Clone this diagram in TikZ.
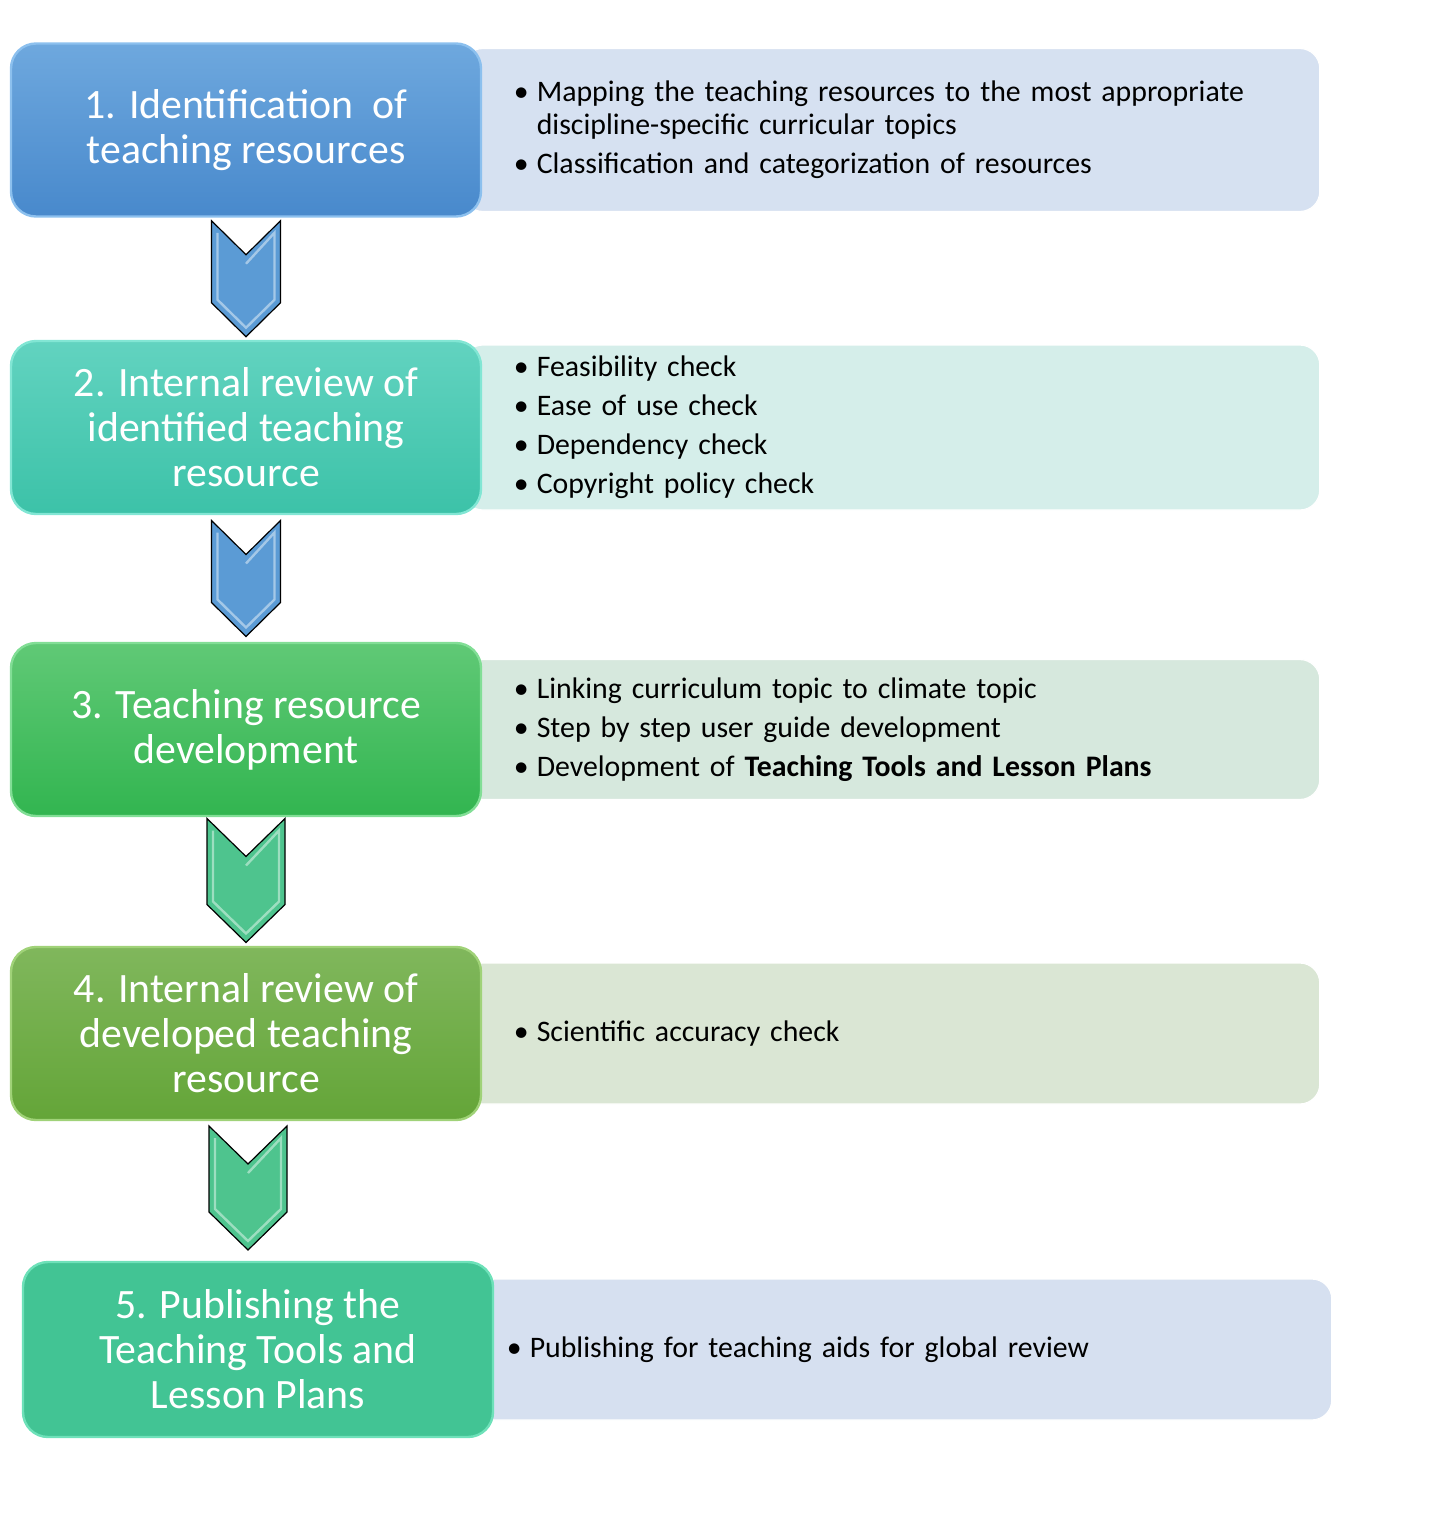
\documentclass[tikz,border=0pt]{standalone}
\usepackage{fontspec}
\setmainfont{Carlito}
\usetikzlibrary{positioning,calc,backgrounds}

\definecolor{OneTop}{RGB}{110,168,222}
\definecolor{OneBot}{RGB}{72,137,204}
\definecolor{OneLine}{RGB}{140,192,238}
\definecolor{TwoTop}{RGB}{98,211,192}
\definecolor{TwoBot}{RGB}{60,194,168}
\definecolor{TwoLine}{RGB}{130,230,212}
\definecolor{ThreeTop}{RGB}{96,201,118}
\definecolor{ThreeBot}{RGB}{50,181,80}
\definecolor{ThreeLine}{RGB}{130,222,150}
\definecolor{FourTop}{RGB}{128,183,92}
\definecolor{FourBot}{RGB}{100,165,56}
\definecolor{FourLine}{RGB}{160,210,120}
\definecolor{FiveFill}{RGB}{66,196,148}
\definecolor{FiveLine}{RGB}{110,225,185}
\definecolor{OneNote}{RGB}{214,225,241}
\definecolor{TwoNote}{RGB}{213,238,234}
\definecolor{ThreeNote}{RGB}{214,232,221}
\definecolor{FourNote}{RGB}{218,230,212}
\definecolor{FiveNote}{RGB}{214,224,240}
\definecolor{ChevBlue}{RGB}{91,155,213}
\definecolor{ChevGreen}{RGB}{78,196,142}

\newcommand\bitem[1]{\noindent\hangindent=11.5pt\hangafter=1\makebox[11.5pt][l]{\textbullet}#1\par}

% chevron: centre, half width, half height, notch depth, style
\newcommand\chevron[5]{%
  \begin{scope}[shift={#1}]
    \draw[#5] (-#2,-#3) -- (0,-#3+#4) -- (#2,-#3) -- (#2,#3-#4) -- (0,#3) -- (-#2,#3-#4) -- cycle;
    \draw[bevel] (-#2+6,-#3+12) -- (-#2+6,#3-#4-3) -- (0,#3-9) -- (#2-6,#3-#4-3) -- (#2-6,-#3+12) -- (0,-#3+#4+9);
  \end{scope}}

\tikzset{
  stepbox/.style={rounded corners=12.5pt, minimum width=235pt, minimum height=86.5pt,
    align=center, text=white, inner sep=0pt, line width=1.2pt,
    font=\fontsize{20.9}{22.5}\selectfont},
  notebox/.style={rounded corners=10pt, minimum width=428.5pt, text width=377.5pt,
    align=left, inner sep=0pt, draw=white, line width=0.6pt,
    font=\fontsize{14.9}{16.5}\selectfont\setlength{\parskip}{3pt}},
  chev/.style={draw=black, line width=0.6pt, line join=miter},
  bevel/.style={draw=white, opacity=0.45, line width=1.2pt},
}

\begin{document}
\begin{tikzpicture}[x=0.5pt,y=-0.5pt]
\useasboundingbox (0,0) rectangle (1432,1515);

% steps
\node[stepbox, top color=OneTop, bottom color=OneBot, draw=OneLine] (b1) at (246,130)
  {1. Identification\ \ of\\teaching resources};
\node[stepbox, top color=TwoTop, bottom color=TwoBot, draw=TwoLine] (b2) at (246,427.5)
  {2. Internal review of\\identified teaching\\resource};
\node[stepbox, top color=ThreeTop, bottom color=ThreeBot, draw=ThreeLine] (b3) at (246,729.5)
  {3. Teaching resource\\development};
\node[stepbox, top color=FourTop, bottom color=FourBot, draw=FourLine] (b4) at (246,1033.5)
  {4. Internal review of\\developed teaching\\resource};
\node[stepbox, minimum height=87.5pt, fill=FiveFill, draw=FiveLine] (b5) at (258,1349.5)
  {5. Publishing the\\Teaching Tools and\\Lesson Plans};

% notes behind the steps
\begin{pgfonlayer}{background}
\node[notebox, fill=OneNote, minimum height=81.5pt, right=-10pt of b1] (n1)
  {\bitem{Mapping the teaching resources to the most appropriate\newline discipline-specific curricular topics}
   \bitem{Classification and categorization of resources}};
\node[notebox, fill=TwoNote, minimum height=82.5pt, right=-10pt of b2] (n2)
  {\bitem{Feasibility check}
   \bitem{Ease of use check}
   \bitem{Dependency check}
   \bitem{Copyright policy check}};
\node[notebox, fill=ThreeNote, minimum height=70pt, right=-10pt of b3] (n3)
  {\bitem{Linking curriculum topic to climate topic}
   \bitem{Step by step user guide development}
   \bitem{Development of \textbf{Teaching Tools and Lesson Plans}}};
\node[notebox, fill=FourNote, minimum height=70.5pt, right=-10pt of b4] (n4)
  {\bitem{Scientific accuracy check}};
\node[notebox, fill=FiveNote, minimum height=70.5pt, text width=396.5pt, right=-10pt of b5] (n5)
  {\bitem{Publishing for teaching aids for global review}};
\end{pgfonlayer}

% chevrons
\chevron{($(b1.south)!.5!(b2.north)$)}{34.5}{58}{34}{chev, fill=ChevBlue}
\chevron{($(b2.south)!.5!(b3.north)$)}{34.5}{58}{34}{chev, fill=ChevBlue}
\chevron{($(b3.south)!.5!(b4.north)+(0,-1)$)}{39}{62}{38}{chev, fill=ChevGreen}
\chevron{($(b4.south)!.5!(b4.south|-b5.north)+(2,-3)$)}{39}{62}{38}{chev, fill=ChevGreen}

\end{tikzpicture}
\end{document}
